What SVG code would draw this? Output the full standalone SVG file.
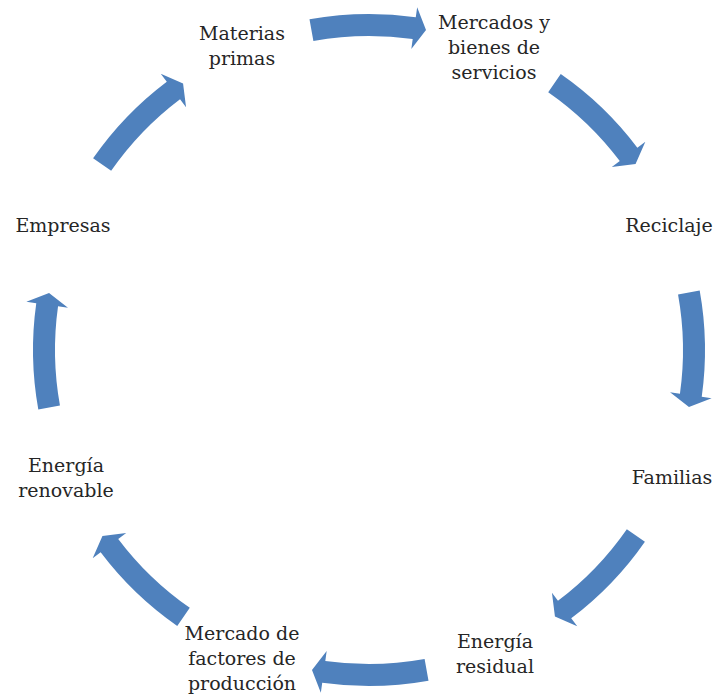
<svg xmlns="http://www.w3.org/2000/svg" xmlns:xlink="http://www.w3.org/1999/xlink" width="714" height="694" viewBox="0 0 714 694">
<defs>
<style>
.lbl{font-family:"DejaVu Serif","Liberation Serif",serif;font-size:19px;fill:#262626;text-anchor:middle}
.arr{fill:#4F81BD}
</style>
<path id="arrow" class="arr" d="M -59.51,-330.69 A 336 336 0 0 1 46.77,-332.74 L 48.16,-342.64 L 57.01,-319.96 L 42.32,-301.05 L 43.71,-310.95 A 314 314 0 0 0 -55.61,-309.04 Z"/>
</defs>
<rect width="714" height="694" fill="#ffffff"/>
<g id="connectors" transform="translate(369,350)">
<use xlink:href="#arrow" href="#arrow"/>
<use xlink:href="#arrow" href="#arrow" transform="rotate(45)"/>
<use xlink:href="#arrow" href="#arrow" transform="rotate(90)"/>
<use xlink:href="#arrow" href="#arrow" transform="rotate(135)"/>
<use xlink:href="#arrow" href="#arrow" transform="rotate(180)"/>
<use xlink:href="#arrow" href="#arrow" transform="rotate(225)"/>
<use xlink:href="#arrow" href="#arrow" transform="rotate(270)"/>
<use xlink:href="#arrow" href="#arrow" transform="rotate(315)"/>
</g>
<g id="materias"><text class="lbl" x="242" y="40">Materias</text><text class="lbl" x="242" y="65">primas</text></g>
<g id="mercados"><text class="lbl" x="494" y="29">Mercados y</text><text class="lbl" x="494" y="54">bienes de</text><text class="lbl" x="494" y="79">servicios</text></g>
<g id="reciclaje"><text class="lbl" x="669" y="232">Reciclaje</text></g>
<g id="familias"><text class="lbl" x="672" y="484">Familias</text></g>
<g id="energia-residual"><text class="lbl" x="495" y="648">Energía</text><text class="lbl" x="495" y="673">residual</text></g>
<g id="mercado-factores"><text class="lbl" x="242" y="640">Mercado de</text><text class="lbl" x="242" y="665">factores de</text><text class="lbl" x="242" y="690">producción</text></g>
<g id="energia-renovable"><text class="lbl" x="66" y="472">Energía</text><text class="lbl" x="66" y="497">renovable</text></g>
<g id="empresas"><text class="lbl" x="63" y="232">Empresas</text></g>
</svg>
